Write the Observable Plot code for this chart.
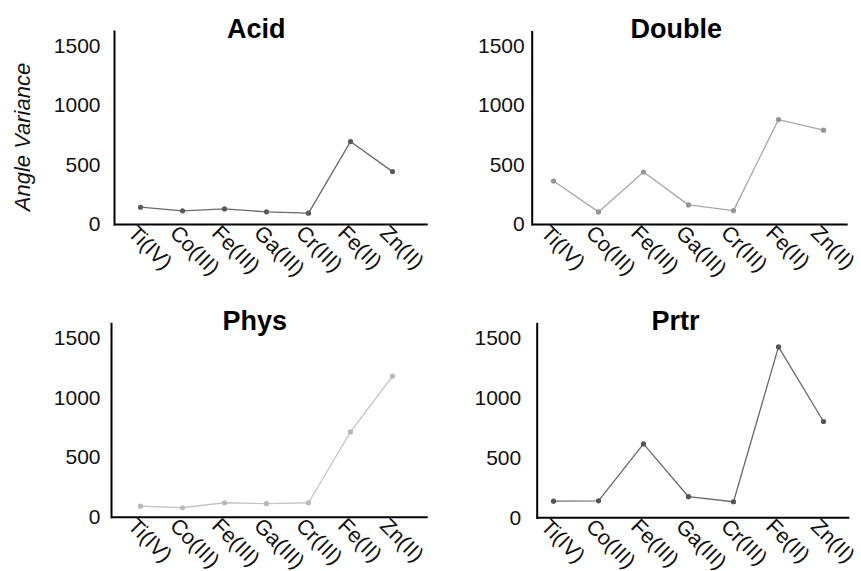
<!DOCTYPE html>
<html><head><meta charset="utf-8">
<script src="https://cdn.jsdelivr.net/npm/d3@7"></script>
<script src="https://cdn.jsdelivr.net/npm/@observablehq/plot@0.6"></script>
<style>
body{margin:0;background:#fff}
#c{position:relative;width:861px;height:571px;overflow:hidden;background:#fff}
.p{position:absolute}
</style></head><body><div id="c"></div>
<script>
// ---- data ----
const metals = ["Ti(IV)","Co(III)","Fe(III)","Ga(III)","Cr(III)","Fe(II)","Zn(II)"];
const acidValues   = [145, 115, 131, 106,  95,  696,  444];
const doubleValues = [366, 106, 442, 165, 117,  883,  794];
const physValues   = [ 92,  79, 121, 113, 121,  714, 1182];
const prtrValues   = [139, 142, 617, 176, 134, 1427,  804];
const yTicks = [0, 500, 1000, 1500];
const titles = ["Acid", "Double", "Phys", "Prtr"];
const yLabel = "Angle Variance";

// ---- layout (styles/positions only) ----
const layouts = [
  {values: acidValues,   left: 0,   top: 0,   width: 430, height: 290, mt: 31,   mb: 66,   ml: 114,   mr: 2.3,  il: 23.7, ir: 33.4, stroke: "#6a6a6a", fill: "#5a5a5a", pad: 14,  tdx: -15, label: true},
  {values: doubleValues, left: 430, top: 0,   width: 431, height: 290, mt: 31.5, mb: 66,   ml: 101.7, mr: 13.3, il: 19.6, ir: 24,   stroke: "#a8a8a8", fill: "#959595", pad: 7.5, tdx: -14, label: false},
  {values: physValues,   left: 0,   top: 290, width: 430, height: 281, mt: 33.3, mb: 54.3, ml: 111,   mr: 2.3,  il: 26.7, ir: 32.7, stroke: "#c4c4c4", fill: "#b8b8b8", pad: 11,  tdx: -15, label: false},
  {values: prtrValues,   left: 430, top: 290, width: 431, height: 281, mt: 33.3, mb: 53.7, ml: 106.7, mr: 11.7, il: 15.6, ir: 25,   stroke: "#6a6a6a", fill: "#555555", pad: 16,  tdx: -18, label: false}
];

const container = document.getElementById("c");
layouts.forEach((L, i) => {
  const rows = metals.map((m, j) => ({metal: m, v: L.values[j]}));
  const marks = [
    Plot.line(rows, {x: "metal", y: "v", stroke: L.stroke, strokeWidth: 1.3}),
    Plot.dot(rows, {x: "metal", y: "v", r: 2.6, fill: L.fill, stroke: "none"}),
    Plot.ruleY([0], {stroke: "#000", strokeWidth: 2}),
    Plot.frame({anchor: "left", stroke: "#000", strokeWidth: 2}),
    Plot.axisY({ticks: yTicks, tickFormat: d => String(d), tickSize: 0, tickPadding: L.pad, fontSize: 21, label: null, fill: "#111"}),
    Plot.axisX({tickRotate: 45, tickSize: 0, tickPadding: 3, dx: -9, dy: 2, fontSize: 21.5, label: null, fill: "#111"}),
    Plot.text([titles[i]], {frameAnchor: "top", text: d => d, dx: L.tdx, dy: 6, fontSize: 27, fontWeight: "bold", lineAnchor: "bottom", fill: "#000"})
  ];
  if (L.label) {
    marks.push(Plot.text([yLabel], {frameAnchor: "left", text: d => d, rotate: -90, dx: -92, dy: 9, fontSize: 22, fontStyle: "italic", textAnchor: "middle", lineAnchor: "middle", fill: "#111"}));
  }
  const chart = Plot.plot({
    width: L.width, height: L.height,
    marginTop: L.mt, marginBottom: L.mb, marginLeft: L.ml, marginRight: L.mr,
    x: {type: "point", domain: metals, padding: 0, insetLeft: L.il, insetRight: L.ir},
    y: {domain: [0, 1620], nice: false},
    style: {fontFamily: "'Liberation Sans', Arial, sans-serif", background: "transparent", overflow: "visible"},
    marks
  });
  const wrap = document.createElement("div");
  wrap.className = "p";
  wrap.style.left = L.left + "px";
  wrap.style.top = L.top + "px";
  wrap.appendChild(chart);
  container.appendChild(wrap);
});
</script></body></html>
